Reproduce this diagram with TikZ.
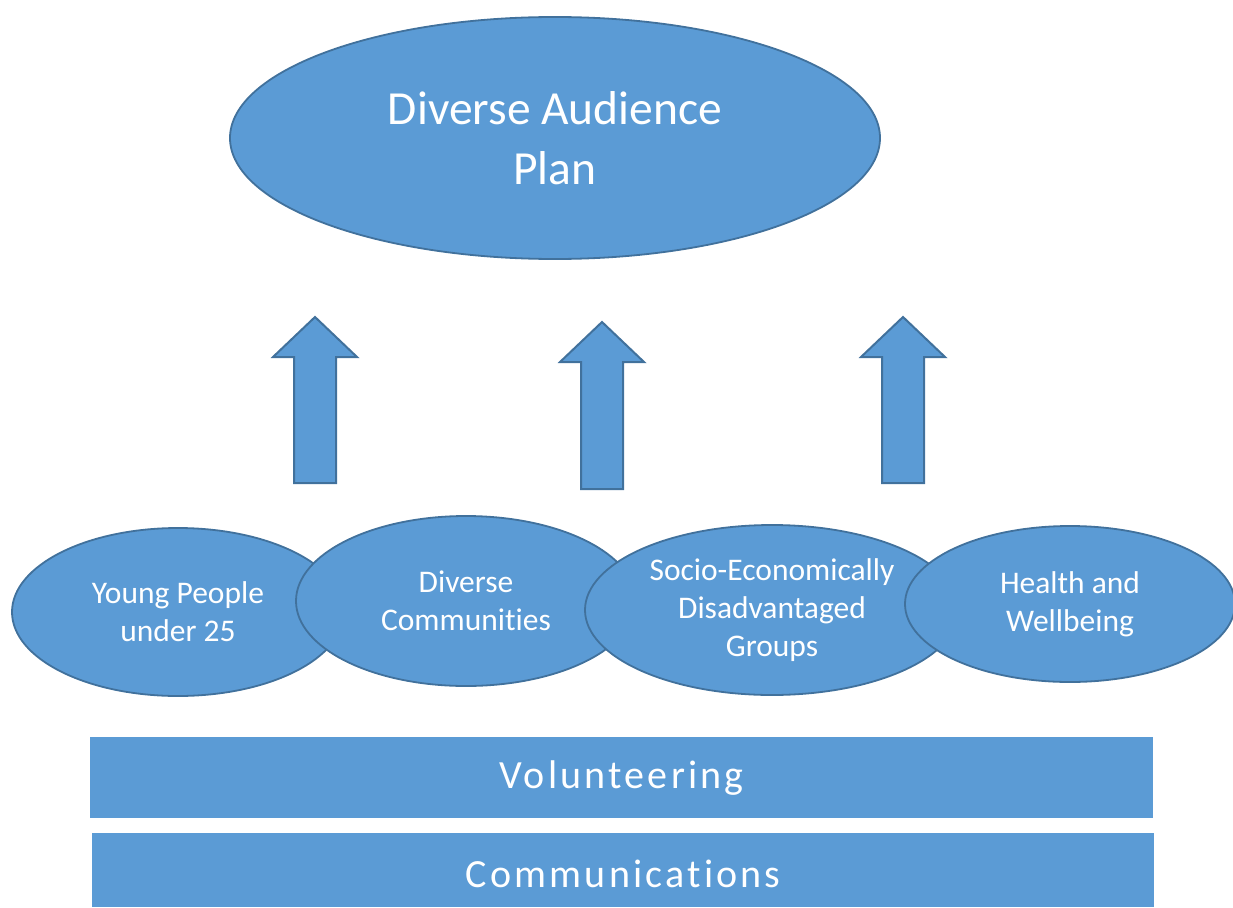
\documentclass[tikz,border=0pt]{standalone}
\usepackage{fontspec}
\setmainfont{Carlito}[Ligatures=NoCommon]
\usepackage{tikz}
\usetikzlibrary{positioning,calc}
\usetikzlibrary{shapes.geometric}

\definecolor{officeblue}{HTML}{5B9BD5}
\definecolor{officeedge}{HTML}{41719C}

\tikzset{
  bubble/.style={ellipse, draw=officeedge, line width=1.8pt, fill=officeblue,
    text=white, align=center, inner sep=0pt},
  blockarrow/.style={draw=officeedge, line width=2pt, fill=officeblue, line join=miter},
  band/.style={fill=officeblue, text=white, inner sep=0pt, anchor=north west},
  bandtext/.style={text=white, font=\fontsize{40}{46}\selectfont\addfontfeatures{LetterSpace=8}},
}

\begin{document}
\begin{tikzpicture}[x=1pt, y=-1pt]
    \useasboundingbox (0,0) rectangle (1233,907);

    % goal
    \node [bubble, minimum width=650pt, minimum height=242pt,
      font=\fontsize{47.5}{60}\selectfont] (plan) at (555,138)
      {Diverse Audience\\Plan};

    % arrows up to the plan
    \foreach \tx/\ty/\by in {315/317/483, 602/322/489, 903/317/483}
      \draw [blockarrow]
        (\tx,\ty)
        -- ++(42,40)
        -- ++(-21,0)
        -- (\tx+21,\by)
        -- (\tx-21,\by)
        -- (\tx-21,\ty+40)
        -- ++(-21,0)
        -- cycle;

    % audience groups, drawn left to right so each overlaps the last
    \begin{scope}[every node/.style={bubble, font=\fontsize{31.5}{38}\selectfont}]
      \node [minimum width=332pt, minimum height=168pt] (young) at (178,612)
        {Young People\\under 25};
      \node [minimum width=340pt, minimum height=170pt] (communities) at (466,601)
        {Diverse\\Communities};
      \node [minimum width=374pt, minimum height=170pt] (socio) at (772,610)
        {Socio-Economically\\Disadvantaged\\Groups};
      \node [minimum width=330pt, minimum height=156pt] (health) at (1070,604)
        {Health and\\Wellbeing};
    \end{scope}

    % foundations
    \node [band, minimum width=1063pt, minimum height=81pt] (volunteering) at (90,737) {};
    \node [bandtext] at (volunteering.center) {Volunteering};
    \node [band, minimum width=1062pt, minimum height=74pt] (comms) at (92,833) {};
    \node [bandtext] at ($(comms.center) + (0,4)$) {Communications};
\end{tikzpicture}
\end{document}
